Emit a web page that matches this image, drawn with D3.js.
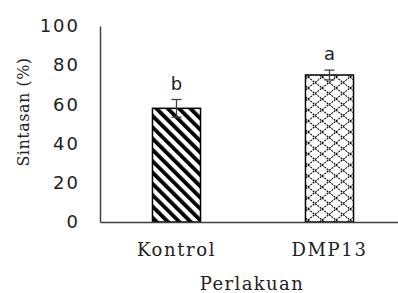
<!DOCTYPE html>
<html>
<head>
<meta charset="utf-8">
<script src="https://cdn.jsdelivr.net/npm/d3@7"></script>
<style>
  body { margin: 0; background: #fff; }
</style>
</head>
<body>
<div id="chart"></div>
<script>
// datos del gráfico
const perlakuan = ['Kontrol', 'DMP13'];
const sintasan = [58, 75];
const galat = [4.5, 2.5];
const notasi = ['b', 'a'];
const yTicks = [0, 20, 40, 60, 80, 100];

const width = 398, height = 293;

const svg = d3.select('#chart').append('svg')
    .attr('width', width)
    .attr('height', height);

// patrones de relleno
const defs = svg.append('defs');
const stripe = defs.append('pattern')
    .attr('id', 'stripe')
    .attr('patternUnits', 'userSpaceOnUse')
    .attr('width', 8).attr('height', 8)
    .attr('patternTransform', 'rotate(-45)');
stripe.append('rect').attr('width', 8).attr('height', 8).attr('fill', '#fff');
stripe.append('rect').attr('x', 0).attr('width', 3.8).attr('height', 8).attr('fill', '#000');

const cross = defs.append('pattern')
    .attr('id', 'cross')
    .attr('patternUnits', 'userSpaceOnUse')
    .attr('width', 14).attr('height', 11);
cross.append('rect').attr('width', 14).attr('height', 11).attr('fill', '#fff');
cross.append('path')
    .attr('d', 'M0,0L14,11M0,11L14,0')
    .attr('stroke', '#000')
    .attr('stroke-width', 1.1)
    .attr('stroke-dasharray', '2,1');

const x = d3.scaleBand()
    .domain(perlakuan)
    .range([100, 406])
    .paddingInner(0.686)
    .paddingOuter(0.343);

const y = d3.scaleLinear()
    .domain([0, 100])
    .range([222, 26]);

// eje Y
const yAxis = svg.append('g')
    .attr('transform', 'translate(100,0)')
    .call(d3.axisLeft(y).tickValues(yTicks).tickSize(0).tickPadding(20));
yAxis.select('.domain').attr('stroke', '#404040').attr('stroke-width', 1.5);
yAxis.selectAll('text')
    .attr('font-family', 'DejaVu Sans')
    .attr('font-size', 18)
    .attr('letter-spacing', 2)
    .attr('fill', '#222');

// barras
svg.selectAll('rect.bar')
    .data(sintasan)
    .enter()
    .append('rect')
    .attr('class', 'bar')
    .attr('x', (d, i) => x(perlakuan[i]))
    .attr('y', d => y(d))
    .attr('width', x.bandwidth())
    .attr('height', d => y(0) - y(d))
    .attr('fill', (d, i) => i === 0 ? 'url(#stripe)' : 'url(#cross)')
    .attr('stroke', '#000')
    .attr('stroke-width', 1.5);

// eje X
const xAxis = svg.append('g')
    .attr('transform', 'translate(0,' + y(0) + ')')
    .call(d3.axisBottom(x).tickSize(0).tickPadding(21));
xAxis.select('.domain').attr('stroke', '#404040').attr('stroke-width', 1.5);
xAxis.selectAll('text')
    .attr('font-family', 'DejaVu Serif')
    .attr('font-size', 18)
    .attr('letter-spacing', 1.6)
    .attr('fill', '#222');

// barras de error
const err = svg.selectAll('g.err')
    .data(sintasan)
    .enter()
    .append('g')
    .attr('class', 'err')
    .attr('stroke', '#404040')
    .attr('stroke-width', 1.3);
err.append('line')
    .attr('x1', (d, i) => x(perlakuan[i]) + x.bandwidth() / 2)
    .attr('x2', (d, i) => x(perlakuan[i]) + x.bandwidth() / 2)
    .attr('y1', (d, i) => y(d + galat[i]))
    .attr('y2', (d, i) => y(d - galat[i]));
err.append('line')
    .attr('x1', (d, i) => x(perlakuan[i]) + x.bandwidth() / 2 - 5)
    .attr('x2', (d, i) => x(perlakuan[i]) + x.bandwidth() / 2 + 5)
    .attr('y1', (d, i) => y(d + galat[i]))
    .attr('y2', (d, i) => y(d + galat[i]));
err.append('line')
    .attr('x1', (d, i) => x(perlakuan[i]) + x.bandwidth() / 2 - 5)
    .attr('x2', (d, i) => x(perlakuan[i]) + x.bandwidth() / 2 + 5)
    .attr('y1', (d, i) => y(d - galat[i]))
    .attr('y2', (d, i) => y(d - galat[i]));

// letras de notación
svg.selectAll('text.notasi')
    .data(sintasan)
    .enter()
    .append('text')
    .attr('class', 'notasi')
    .attr('x', (d, i) => x(perlakuan[i]) + x.bandwidth() / 2)
    .attr('y', (d, i) => y(d + galat[i]) - 10)
    .attr('text-anchor', 'middle')
    .attr('font-family', 'DejaVu Sans')
    .attr('font-size', 18)
    .attr('fill', '#222')
    .text((d, i) => notasi[i]);

// títulos de ejes
svg.append('text')
    .attr('x', 252)
    .attr('y', 290)
    .attr('text-anchor', 'middle')
    .attr('font-family', 'DejaVu Serif')
    .attr('font-size', 18)
    .attr('letter-spacing', 1.4)
    .attr('fill', '#222')
    .text('Perlakuan');

svg.append('text')
    .attr('transform', 'translate(29,112) rotate(-90)')
    .attr('text-anchor', 'middle')
    .attr('font-family', 'DejaVu Serif')
    .attr('font-size', 16)
    .attr('letter-spacing', 0.5)
    .attr('fill', '#222')
    .text('Sintasan (%)');
</script>
</body>
</html>
